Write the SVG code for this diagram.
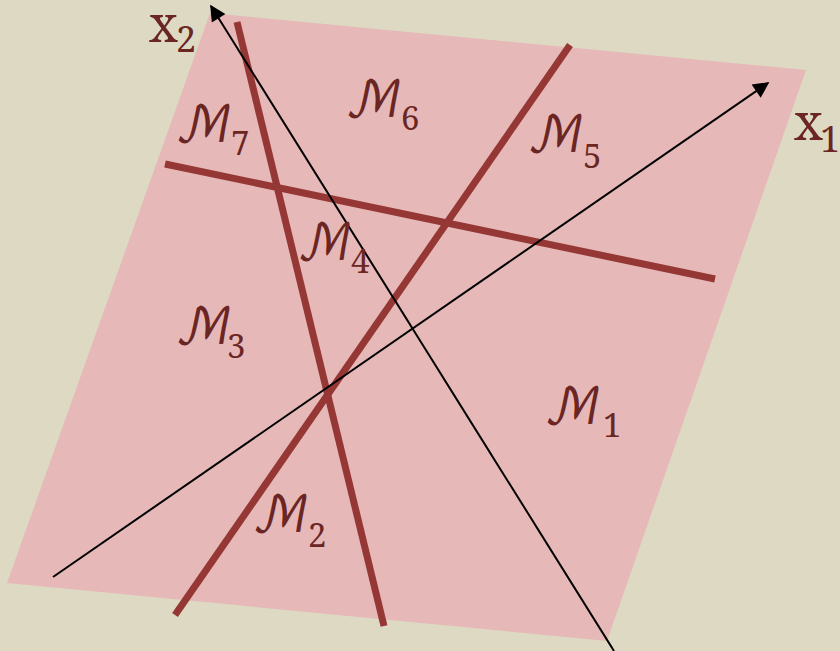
<svg xmlns="http://www.w3.org/2000/svg" width="840" height="651" viewBox="0 0 840 651">
<style>
.bd{stroke:#953735;stroke-width:7;stroke-linecap:butt;fill:none}
.ax{stroke:#000;stroke-width:2;fill:none}
.m{font-family:"DejaVu Math TeX Gyre","DejaVu Serif",serif;font-size:50px;fill:#6b2624}
.s{font-family:"Noto Serif","DejaVu Serif",serif;font-size:33px;fill:#6b2624}
.xl{font-family:"Noto Serif","Liberation Serif",serif;font-size:50px;fill:#6b2624}
.xs{font-family:"Noto Serif","Liberation Serif",serif;font-size:36px;fill:#6b2624}
</style>
<defs>
<marker id="ah2" viewBox="0 0 10 10" refX="9" refY="5" markerWidth="20" markerHeight="16" orient="auto" markerUnits="userSpaceOnUse">
<path d="M0,0 L10,5 L0,10 Z" fill="#000"/>
</marker>
</defs>
<rect width="840" height="651" fill="#ddd9c3"/>
<g id="plane"><polygon points="210,13 806,70 607,641 7,583" fill="#e6b9b8"/></g>
<g id="boundaries">
<line class="bd" x1="237" y1="22" x2="384" y2="626"/>
<line class="bd" x1="570" y1="45" x2="175" y2="615"/>
<line class="bd" x1="165" y1="164" x2="715" y2="279"/>
</g>
<g id="axes">
<line class="ax" x1="53" y1="577" x2="768" y2="83" marker-end="url(#ah2)"/>
<line class="ax" x1="614" y1="651" x2="211" y2="6" marker-end="url(#ah2)"/>
</g>
<g id="labels">
<g id="M1"><text class="m" x="544" y="424" textLength="58" lengthAdjust="spacingAndGlyphs">ℳ</text><text class="s" x="603" y="437">1</text></g>
<g id="M2"><text class="m" x="252" y="532" textLength="58" lengthAdjust="spacingAndGlyphs">ℳ</text><text class="s" x="308" y="547">2</text></g>
<g id="M3"><text class="m" x="175" y="344" textLength="58" lengthAdjust="spacingAndGlyphs">ℳ</text><text class="s" x="227" y="358">3</text></g>
<g id="M4"><text class="m" x="297" y="260" textLength="56" lengthAdjust="spacingAndGlyphs">ℳ</text><text class="s" x="351" y="273">4</text></g>
<g id="M5"><text class="m" x="527" y="152" textLength="58" lengthAdjust="spacingAndGlyphs">ℳ</text><text class="s" x="583" y="168">5</text></g>
<g id="M6"><text class="m" x="345" y="117" textLength="58" lengthAdjust="spacingAndGlyphs">ℳ</text><text class="s" x="401" y="130">6</text></g>
<g id="M7"><text class="m" x="175" y="142" textLength="58" lengthAdjust="spacingAndGlyphs">ℳ</text><text class="s" x="231" y="155">7</text></g>
<g id="x1"><text class="xl" x="794" y="140">x</text><text class="xs" x="820" y="152">1</text></g>
<g id="x2"><text class="xl" x="149" y="42">x</text><text class="xs" x="176" y="52">2</text></g>
</g>
</svg>
